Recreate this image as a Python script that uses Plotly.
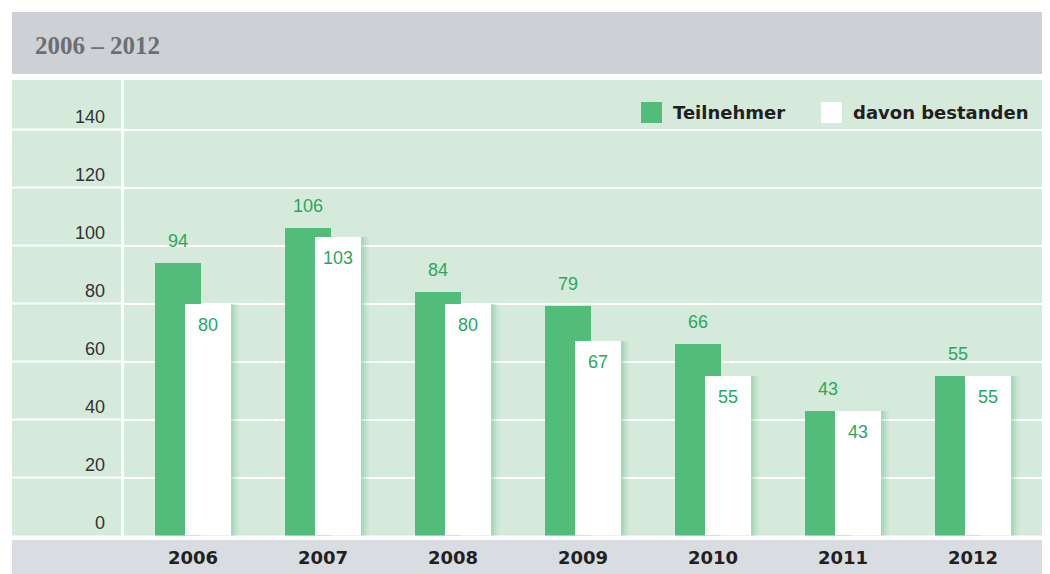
import plotly.graph_objects as go

# ---- data ----
years = ["2006", "2007", "2008", "2009", "2010", "2011", "2012"]
teilnehmer = [94, 106, 84, 79, 66, 43, 55]
bestanden = [80, 103, 80, 67, 55, 43, 55]
series_names = ["Teilnehmer", "davon bestanden"]
y_ticks = [0, 20, 40, 60, 80, 100, 120, 140]

# ---- layout constants (pixels, in the 1050x574 window; page body has an 8px margin) ----
OFF = 8
W, H = 1050 - OFF, 574 - OFF
def px(x): return (x - OFF) / W
def py(y): return 1 - (y - OFF) / H

GREEN = "#52bd7a"
TEXT_GREEN = "#2aa85a"
BG_GREEN = "#d5eadb"
HEAD_GRAY = "#cdd1d5"
FOOT_GRAY = "#d9dce0"

x_idx = list(range(len(years)))
bar_w = 46 / 130
off = 15 / 130

fig = go.Figure()
fig.add_trace(go.Bar(x=x_idx, y=teilnehmer, width=bar_w, offset=-off - bar_w / 2,
                     marker=dict(color=GREEN, line=dict(width=0)), name=series_names[0],
                     showlegend=False, hoverinfo="skip"))
# soft glow right of white bars
for ext, a in [(8, 0.10), (5, 0.12), (2.5, 0.15)]:
    fig.add_trace(go.Bar(x=x_idx, y=bestanden, width=bar_w + ext / 130, offset=off - bar_w / 2,
                         marker=dict(color=f"rgba(82,189,122,{a})", line=dict(width=0)),
                         showlegend=False, hoverinfo="skip"))
fig.add_trace(go.Bar(x=x_idx, y=bestanden, width=bar_w, offset=off - bar_w / 2,
                     marker=dict(color="#ffffff", line=dict(width=0)), name=series_names[1],
                     showlegend=False, hoverinfo="skip"))

annotations = []
for i, (t, b) in enumerate(zip(teilnehmer, bestanden)):
    annotations.append(dict(x=i - off, y=t, xref="x", yref="y", text=str(t), showarrow=False,
                            yanchor="bottom", yshift=10,
                            font=dict(family="Liberation Sans", size=18, color=TEXT_GREEN)))
    annotations.append(dict(x=i + off, y=b, xref="x", yref="y", text=str(b), showarrow=False,
                            yanchor="top", yshift=-9,
                            font=dict(family="Liberation Sans", size=18, color=TEXT_GREEN)))

# title
annotations.append(dict(x=px(33), y=py(45), xref="paper", yref="paper", xanchor="left",
                        yanchor="middle", text=f"{years[0]} – {years[-1]}", showarrow=False,
                        font=dict(family="Liberation Serif", size=25, color="#6b6f73", weight="bold")))

# legend
shapes = []
legend_items = [(641, GREEN, series_names[0]), (821, "#ffffff", series_names[1])]
for x0, col, name in legend_items:
    shapes.append(dict(type="rect", xref="paper", yref="paper", x0=px(x0), x1=px(x0 + 21),
                       y0=py(123), y1=py(102), fillcolor=col, line=dict(width=0), layer="above"))
    annotations.append(dict(x=px(x0 + 30), y=py(112.5), xref="paper", yref="paper", xanchor="left",
                            yanchor="middle", text=name, showarrow=False,
                            font=dict(family="DejaVu Sans", size=18, color="#231f20", weight="bold")))

# background bands
shapes.append(dict(type="rect", xref="paper", yref="paper", x0=px(12), x1=1, y0=py(74), y1=py(12),
                   fillcolor=HEAD_GRAY, line=dict(width=0), layer="below"))
shapes.append(dict(type="rect", xref="paper", yref="paper", x0=px(12), x1=px(121), y0=py(535.5), y1=py(80),
                   fillcolor=BG_GREEN, line=dict(width=0), layer="below"))
shapes.append(dict(type="rect", xref="paper", yref="paper", x0=px(12), x1=1, y0=0, y1=py(540),
                   fillcolor=FOOT_GRAY, line=dict(width=0), layer="below"))
# gridlines in the left label column
for v in y_ticks[1:]:
    shapes.append(dict(type="line", xref="paper", yref="y", x0=px(12), x1=px(121), y0=v, y1=v,
                       line=dict(color="#ffffff", width=2), layer="above"))

y_top = (535.5 - 80) / 2.9

fig.update_layout(
    width=W, height=H,
    margin=dict(l=0, r=0, t=0, b=0),
    paper_bgcolor="#ffffff",
    plot_bgcolor=BG_GREEN,
    barmode="overlay",
    bargap=0,
    showlegend=False,
    shapes=shapes,
    annotations=annotations,
    xaxis=dict(domain=[px(124), 1], range=[(124 - 193) / 130, (1050 - 193) / 130],
               tickmode="array", tickvals=x_idx, ticktext=years, showgrid=False, zeroline=False,
               showline=False, ticks="", ticklabelstandoff=9,
               tickfont=dict(family="DejaVu Sans", size=18, color="#231f20", weight="bold")),
    yaxis=dict(domain=[py(535.5), py(80)], range=[0, y_top], tickmode="array", tickvals=y_ticks,
               showgrid=True, gridcolor="#ffffff", gridwidth=2, zeroline=False, showline=False,
               ticks="", ticklabelposition="outside top", ticklabelstandoff=18,
               tickfont=dict(family="Liberation Sans", size=18, color="#333333")),
)

fig.write_html("out.html")
